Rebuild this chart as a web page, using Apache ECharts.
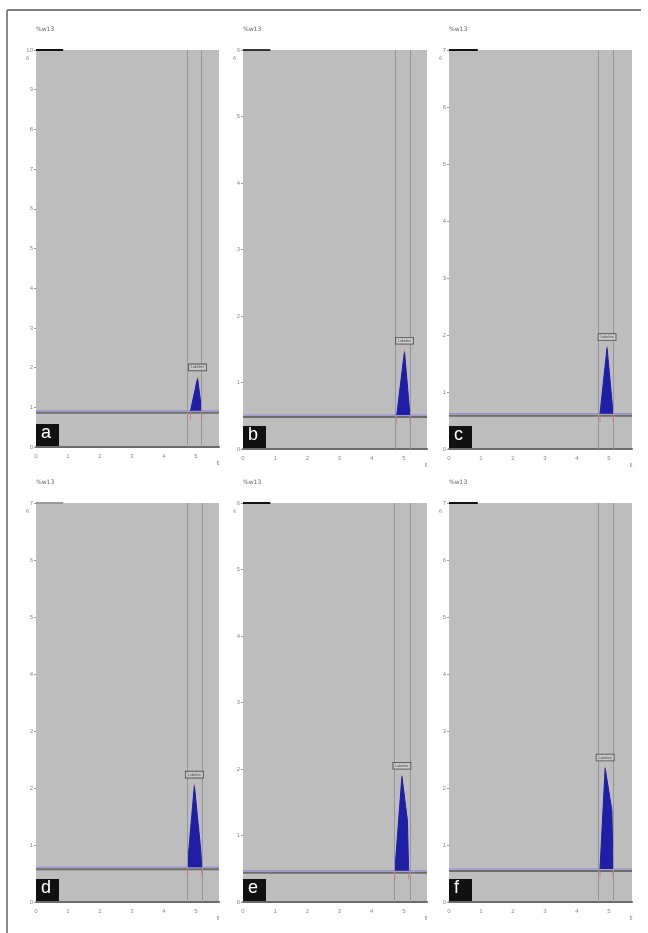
<!DOCTYPE html>
<html><head><meta charset="utf-8">
<script src="https://cdn.jsdelivr.net/npm/echarts@6/dist/echarts.min.js"></script>
<style>html,body{margin:0;padding:0;background:#fff}#c{width:648px;height:933px}</style>
</head><body><div id="c"></div>
<script>
const panelLetters = ['a','b','c','d','e','f'];
const xTickLabels = ['0','1','2','3','4','5'];
const xMax = 5.72;
const yIntervals = [10, 6, 7, 7, 6, 7];
const baselines = [0.91, 0.51, 0.62, 0.61, 0.47, 0.58];
const peakTimesA = [4.83, 5.05, 5.18];
const peakSignalA = [0.91, 1.74, 0.91];
const peakTimesB = [4.78, 5.02, 5.19];
const peakSignalB = [0.51, 1.47, 0.51];
const peakTimesC = [4.72, 4.94, 5.13];
const peakSignalC = [0.62, 1.78, 0.62];
const peakTimesD = [4.73, 4.95, 5.15, 5.18];
const peakSignalD = [0.61, 2.05, 0.91, 0.61];
const peakTimesE = [4.72, 4.94, 5.11, 5.15];
const peakSignalE = [0.47, 1.89, 1.23, 0.47];
const peakTimesF = [4.72, 4.88, 5.09, 5.13];
const peakSignalF = [0.58, 2.35, 1.61, 0.58];
const windowA = [4.72, 5.16];
const windowB = [4.72, 5.19];
const windowC = [4.66, 5.13];
const windowD = [4.72, 5.19];
const windowE = [4.69, 5.19];
const windowF = [4.66, 5.13];
const topMarkEnd = [0.85, 0.85, 0.9, 0.85, 0.85, 0.9];
const topMarkColor = ['#111', '#333', '#111', '#999', '#111', '#111'];
const peakName = 'Lobeline';
const yAxisTitle = '%w13';
const xAxisName = 't';

const peakTimes = [peakTimesA, peakTimesB, peakTimesC, peakTimesD, peakTimesE, peakTimesF];
const peakSignals = [peakSignalA, peakSignalB, peakSignalC, peakSignalD, peakSignalE, peakSignalF];
const windows = [windowA, windowB, windowC, windowD, windowE, windowF];

const rects = [
  {left: 36, top: 50, width: 183, height: 397},
  {left: 243, top: 50, width: 184, height: 399},
  {left: 449, top: 50, width: 183, height: 399},
  {left: 36, top: 503, width: 183, height: 399},
  {left: 243, top: 503, width: 184, height: 399},
  {left: 449, top: 503, width: 183, height: 399}
];

const chart = echarts.init(document.getElementById('c'), null, {renderer: 'canvas'});
const grid = [], xAxis = [], yAxis = [], series = [], graphic = [];

rects.forEach((r, i) => {
  grid.push(Object.assign({show: true, backgroundColor: '#bdbdbd', borderWidth: 0, containLabel: false}, r));
  xAxis.push({
    type: 'value', gridIndex: i, min: 0, max: xMax, interval: 1,
    axisLine: {show: true, lineStyle: {color: '#6a6a6a', width: 2}},
    axisTick: {show: false}, splitLine: {show: false},
    axisLabel: {show: true, fontSize: 6, color: '#8a8a8a', margin: 6, showMaxLabel: false,
      formatter: v => (Number.isInteger(v) && v < xTickLabels.length) ? xTickLabels[v] : ''}
  });
  yAxis.push({
    type: 'value', gridIndex: i, min: 0, max: yIntervals[i], interval: 1,
    axisLine: {show: false},
    axisTick: {show: true, length: 2, lineStyle: {color: '#999'}},
    splitLine: {show: false},
    axisLabel: {show: true, fontSize: 6, color: '#8a8a8a', margin: 3}
  });
  const b = baselines[i];
  const ymax = yIntervals[i];
  const off = 2 / (r.height / ymax);
  // dark baseline
  series.push({type: 'line', xAxisIndex: i, yAxisIndex: i, symbol: 'none', silent: true,
    data: [[0, b - off], [xMax, b - off]], lineStyle: {color: '#6c6c6c', width: 2}, z: 2,
    markLine: {silent: true, symbol: 'none', label: {show: false},
      lineStyle: {color: '#979797', width: 1, type: 'solid'},
      data: windows[i].map(x => ({xAxis: x}))}
  });
  // purple baseline
  series.push({type: 'line', xAxisIndex: i, yAxisIndex: i, symbol: 'none', silent: true,
    data: [[0, b], [xMax, b]], lineStyle: {color: '#8f87dc', width: 1}, z: 3});
  // peak
  const pd = peakTimes[i].map((t, k) => [t, peakSignals[i][k]]);
  series.push({type: 'line', xAxisIndex: i, yAxisIndex: i, symbol: 'none', silent: true,
    data: pd, lineStyle: {color: '#1e1ea6', width: 1}, z: 4,
    areaStyle: {color: '#1e1ea6', opacity: 1, origin: b}});
  // apex label
  let ai = 0; peakSignals[i].forEach((v, k) => { if (v > peakSignals[i][ai]) ai = k; });
  series.push({type: 'scatter', xAxisIndex: i, yAxisIndex: i, silent: true, z: 6,
    symbol: 'rect', symbolSize: [1, 3], itemStyle: {color: '#e06a78'},
    data: [[peakTimes[i][ai], peakSignals[i][ai]]],
    label: {show: true, position: 'top', distance: 6, formatter: peakName, fontSize: 3.5,
      color: '#222', backgroundColor: '#cfcfcf', borderColor: '#333', borderWidth: 0.8, padding: [1, 2]}});
  // peak start/end markers
  const nT = peakTimes[i].length;
  series.push({type: 'scatter', xAxisIndex: i, yAxisIndex: i, silent: true, z: 6,
    symbol: 'rect', symbolSize: [1, 7], symbolOffset: [0, 5], itemStyle: {color: '#e06a78'},
    data: [[peakTimes[i][0], b], [peakTimes[i][nT - 1], b]]});
  // top-left mark
  series.push({type: 'line', xAxisIndex: i, yAxisIndex: i, symbol: 'none', silent: true, z: 5,
    data: [[0, ymax], [topMarkEnd[i], ymax]], lineStyle: {color: topMarkColor[i], width: 2}});
  // texts
  graphic.push({type: 'text', left: r.left, top: r.top - 24,
    style: {text: yAxisTitle, fontSize: 6, fill: '#666', fontFamily: 'DejaVu Sans'}});
  graphic.push({type: 'text', left: r.left - 10, top: r.top + 6,
    style: {text: '6', fontSize: 5, fill: '#888', fontFamily: 'DejaVu Sans'}});
  graphic.push({type: 'text', left: r.left + r.width - 2, top: r.top + r.height + 13,
    style: {text: xAxisName, fontSize: 6, fill: '#666', fontFamily: 'DejaVu Sans'}});
  graphic.push({type: 'rect', left: r.left, top: r.top + r.height - 23, z: 10,
    shape: {width: 23, height: 22}, style: {fill: '#111'}});
  graphic.push({type: 'text', left: r.left + 5, top: r.top + r.height - 23, z: 11,
    style: {text: panelLetters[i], fontSize: 18, fill: '#fff', fontFamily: 'Liberation Sans'}});
});

graphic.push({type: 'line', shape: {x1: 7, y1: 10, x2: 641, y2: 10}, style: {stroke: '#555', lineWidth: 1.5}});
graphic.push({type: 'line', shape: {x1: 7, y1: 10, x2: 7, y2: 933}, style: {stroke: '#888', lineWidth: 2}});

chart.setOption({animation: false, backgroundColor: '#fff', grid, xAxis, yAxis, series, graphic});
</script></body></html>
